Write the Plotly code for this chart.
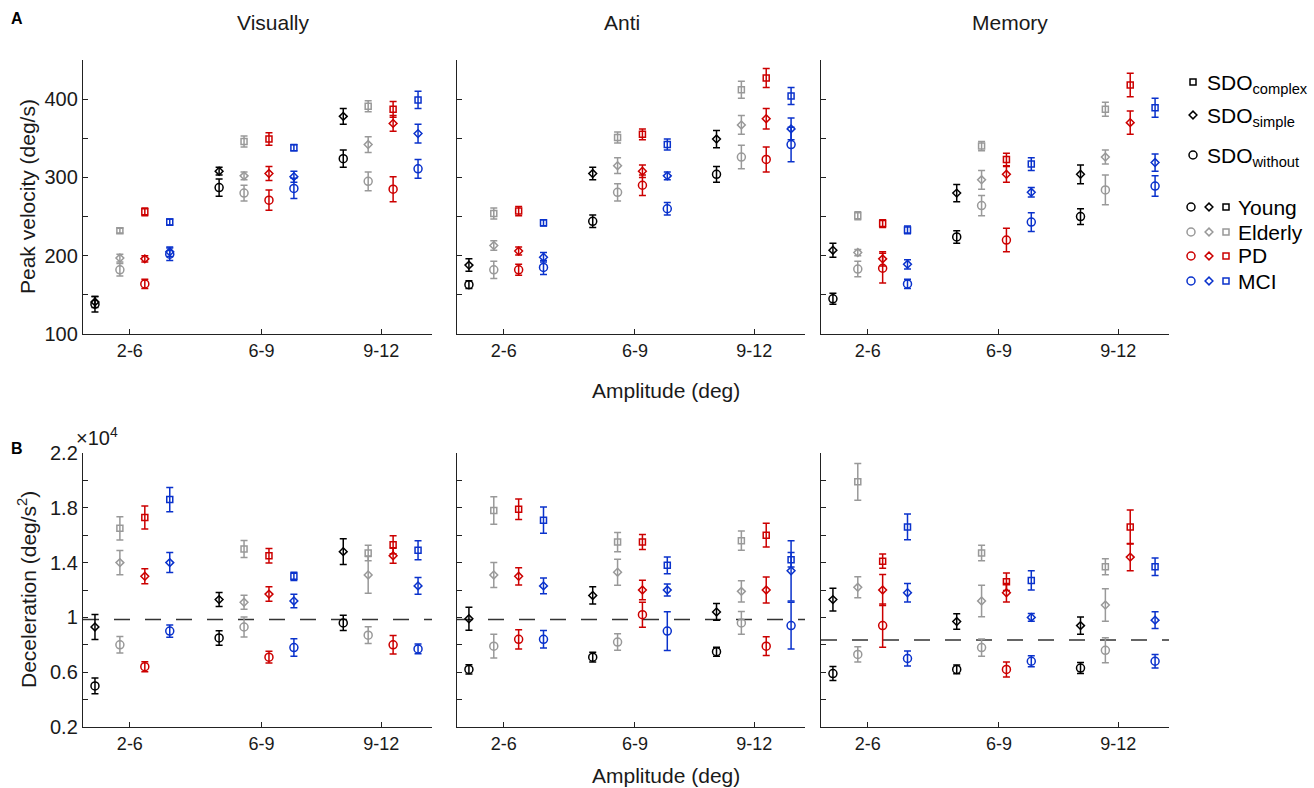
import plotly.graph_objects as go

W, H = 1314, 788

# ---------------- categories ----------------
AMPLITUDE_BINS = ['2-6', '6-9', '9-12']
GROUPS = ['Young', 'Elderly', 'PD', 'MCI']
TASKS = ['Visually', 'Anti', 'Memory']
CONDITIONS = ['complex', 'simple', 'without']

# ---------------- peak velocity (deg/s) ----------------
# rows: Young, Elderly, PD, MCI ; cols: 2-6, 6-9, 9-12
PV_VIS_COMPLEX = [[None, None, None], [232, 346, 391], [256, 349, 387], [243, 338, 399]]
PV_VIS_COMPLEX_SE = [[None, None, None], [3, 7, 7], [5, 8, 10], [4, 4, 11]]
PV_VIS_SIMPLE = [[141, 308, 378], [197, 302, 342], [196, 305, 369], [205, 301, 356]]
PV_VIS_SIMPLE_SE = [[7, 5, 10], [5, 5, 10], [4, 9, 10], [6, 7, 12]]
PV_VIS_WITHOUT = [[138, 287, 324], [182, 280, 295], [164, 271, 285], [202, 286, 311]]
PV_VIS_WITHOUT_SE = [[10, 11, 11], [8, 10, 12], [6, 13, 16], [8, 13, 12]]

PV_ANTI_COMPLEX = [[None, None, None], [254, 351, 412], [257, 355, 427], [242, 342, 404]]
PV_ANTI_COMPLEX_SE = [[None, None, None], [7, 7, 11], [6, 7, 12], [4, 7, 11]]
PV_ANTI_SIMPLE = [[188, 305, 349], [213, 315, 367], [206, 308, 375], [198, 302, 362]]
PV_ANTI_SIMPLE_SE = [[8, 8, 11], [6, 10, 12], [5, 8, 13], [6, 5, 14]]
PV_ANTI_WITHOUT = [[163, 244, 304], [182, 281, 326], [182, 290, 323], [185, 260, 342]]
PV_ANTI_WITHOUT_SE = [[5, 8, 10], [11, 11, 15], [7, 13, 16], [9, 8, 22]]

PV_MEM_COMPLEX = [[None, None, None], [251, 340, 387], [241, 323, 418], [233, 317, 389]]
PV_MEM_COMPLEX_SE = [[None, None, None], [5, 6, 9], [5, 8, 15], [5, 8, 12]]
PV_MEM_SIMPLE = [[207, 280, 304], [204, 297, 326], [196, 304, 370], [189, 281, 319]]
PV_MEM_SIMPLE_SE = [[9, 11, 12], [4, 12, 9], [9, 10, 15], [6, 6, 11]]
PV_MEM_WITHOUT = [[145, 224, 250], [183, 264, 284], [184, 220, None], [164, 243, 289]]
PV_MEM_WITHOUT_SE = [[7, 8, 10], [10, 13, 19], [19, 15, None], [6, 12, 13]]

# ---------------- deceleration (x10^4 deg/s^2) ----------------
DC_VIS_COMPLEX = [[None, None, None], [1.65, 1.50, 1.47], [1.73, 1.45, 1.53], [1.86, 1.30, 1.49]]
DC_VIS_COMPLEX_SE = [[None, None, None], [0.085, 0.062, 0.057], [0.084, 0.053, 0.066], [0.089, 0.03, 0.069]]
DC_VIS_SIMPLE = [[0.93, 1.13, 1.48], [1.40, 1.11, 1.31], [1.30, 1.17, 1.45], [1.40, 1.12, 1.23]]
DC_VIS_SIMPLE_SE = [[0.091, 0.051, 0.094], [0.089, 0.051, 0.134], [0.055, 0.053, 0.055], [0.073, 0.049, 0.061]]
DC_VIS_WITHOUT = [[0.50, 0.85, 0.96], [0.80, 0.93, 0.87], [0.64, 0.71, 0.80], [0.90, 0.78, 0.77]]
DC_VIS_WITHOUT_SE = [[0.057, 0.053, 0.055], [0.06, 0.073, 0.061], [0.036, 0.043, 0.067], [0.045, 0.064, 0.035]]

DC_ANTI_COMPLEX = [[None, None, None], [1.78, 1.55, 1.56], [1.79, 1.55, 1.60], [1.71, 1.38, 1.42]]
DC_ANTI_COMPLEX_SE = [[None, None, None], [0.10, 0.07, 0.07], [0.075, 0.055, 0.087], [0.095, 0.061, 0.053]]
DC_ANTI_SIMPLE = [[0.99, 1.16, 1.04], [1.31, 1.33, 1.19], [1.30, 1.20, 1.20], [1.23, 1.20, 1.34]]
DC_ANTI_SIMPLE_SE = [[0.084, 0.063, 0.061], [0.091, 0.095, 0.077], [0.063, 0.072, 0.094], [0.057, 0.044, 0.22]]
DC_ANTI_WITHOUT = [[0.62, 0.71, 0.75], [0.79, 0.82, 0.96], [0.84, 1.02, 0.79], [0.84, 0.90, 0.94]]
DC_ANTI_WITHOUT_SE = [[0.034, 0.036, 0.033], [0.087, 0.06, 0.083], [0.07, 0.091, 0.069], [0.064, 0.142, 0.17]]

DC_MEM_COMPLEX = [[None, None, None], [1.99, 1.47, 1.37], [1.41, 1.26, 1.66], [1.66, 1.27, 1.37]]
DC_MEM_COMPLEX_SE = [[None, None, None], [0.134, 0.056, 0.058], [0.052, 0.064, 0.124], [0.094, 0.07, 0.064]]
DC_MEM_SIMPLE = [[1.13, 0.97, 0.94], [1.22, 1.12, 1.09], [1.20, 1.18, 1.44], [1.18, 1.00, 0.98]]
DC_MEM_SIMPLE_SE = [[0.083, 0.057, 0.063], [0.077, 0.115, 0.119], [0.113, 0.067, 0.10], [0.067, 0.028, 0.061]]
DC_MEM_WITHOUT = [[0.59, 0.62, 0.63], [0.73, 0.78, 0.76], [0.94, 0.62, None], [0.70, 0.68, 0.68]]
DC_MEM_WITHOUT_SE = [[0.051, 0.032, 0.04], [0.055, 0.063, 0.091], [0.157, 0.055, None], [0.055, 0.04, 0.049]]

# dashed reference levels in the deceleration panels (x10^4)
DC_REFERENCE = [0.985, 0.985, 0.835]

# tick values / labels
PV_TICKS = [100, 200, 300, 400]
PV_TICKTEXT = ['100', '200', '300', '400']
PV_MINOR = [150, 250, 350, 450]
DC_TICKS = [0.2, 0.6, 1.0, 1.4, 1.8, 2.2]
DC_TICKTEXT = ['0.2', '0.6', '1', '1.4', '1.8', '2.2']
DC_MINOR = [0.4, 0.8, 1.2, 1.6, 2.0]

PV = {
    'Visually': {'complex': (PV_VIS_COMPLEX, PV_VIS_COMPLEX_SE), 'simple': (PV_VIS_SIMPLE, PV_VIS_SIMPLE_SE), 'without': (PV_VIS_WITHOUT, PV_VIS_WITHOUT_SE)},
    'Anti': {'complex': (PV_ANTI_COMPLEX, PV_ANTI_COMPLEX_SE), 'simple': (PV_ANTI_SIMPLE, PV_ANTI_SIMPLE_SE), 'without': (PV_ANTI_WITHOUT, PV_ANTI_WITHOUT_SE)},
    'Memory': {'complex': (PV_MEM_COMPLEX, PV_MEM_COMPLEX_SE), 'simple': (PV_MEM_SIMPLE, PV_MEM_SIMPLE_SE), 'without': (PV_MEM_WITHOUT, PV_MEM_WITHOUT_SE)},
}
DC = {
    'Visually': {'complex': (DC_VIS_COMPLEX, DC_VIS_COMPLEX_SE), 'simple': (DC_VIS_SIMPLE, DC_VIS_SIMPLE_SE), 'without': (DC_VIS_WITHOUT, DC_VIS_WITHOUT_SE)},
    'Anti': {'complex': (DC_ANTI_COMPLEX, DC_ANTI_COMPLEX_SE), 'simple': (DC_ANTI_SIMPLE, DC_ANTI_SIMPLE_SE), 'without': (DC_ANTI_WITHOUT, DC_ANTI_WITHOUT_SE)},
    'Memory': {'complex': (DC_MEM_COMPLEX, DC_MEM_COMPLEX_SE), 'simple': (DC_MEM_SIMPLE, DC_MEM_SIMPLE_SE), 'without': (DC_MEM_WITHOUT, DC_MEM_WITHOUT_SE)},
}

# ---------------- styles / layout ----------------
FONT = 'Liberation Sans, Arial, sans-serif'
TXT = '#1a1a1a'
AX = '#222222'
COLORS = {'Young': '#000000', 'Elderly': '#999999', 'PD': '#cc0000', 'MCI': '#0a32cc'}
SYMBOLS = {'complex': 'square-open', 'simple': 'diamond-open', 'without': 'circle-open'}
SIZES = {'complex': 6, 'simple': 6, 'without': 8}

X_RANGE = [0, 14]
BIN_BASE = [0.48, 5.46, 10.44]
GROUP_OFFSET = [0, 1, 2, 3]
X_TICKVALS = [1.88, 7.16, 11.96]

PANEL_X = [(83, 432), (457, 805), (821, 1169)]
ROW_Y = [(60, 334), (453, 727)]


def dom_x(a, b):
    return [a / W, b / W]


def dom_y(top, bottom):
    return [1 - bottom / H, 1 - top / H]


fig = go.Figure()
layout = dict(
    width=W, height=H, margin=dict(l=0, r=0, t=0, b=0, pad=0, autoexpand=False),
    plot_bgcolor='rgba(0,0,0,0)', paper_bgcolor='white', showlegend=False,
    font=dict(family=FONT, color=TXT, size=18),
)

ax_common = dict(showline=True, linecolor=AX, linewidth=1.4, ticks='inside', ticklen=5,
                 tickwidth=1.3, tickcolor=AX, showgrid=False, zeroline=False, mirror=False,
                 automargin=False)

shapes = []
for r, (metric, yr) in enumerate([(PV, ROW_Y[0]), (DC, ROW_Y[1])]):
    for c, task in enumerate(TASKS):
        idx = r * 3 + c + 1
        xa = 'x' if idx == 1 else f'x{idx}'
        ya = 'y' if idx == 1 else f'y{idx}'
        xkey = 'xaxis' if idx == 1 else f'xaxis{idx}'
        ykey = 'yaxis' if idx == 1 else f'yaxis{idx}'
        layout[xkey] = dict(ax_common, domain=dom_x(*PANEL_X[c]), range=X_RANGE, anchor=ya,
                            tickmode='array', tickvals=X_TICKVALS, ticktext=AMPLITUDE_BINS,
                            tickfont=dict(size=18, color=TXT))
        if r == 0:
            ycfg = dict(range=[100, 450], tickvals=PV_TICKS, ticktext=PV_TICKTEXT,
                        minor=dict(tickmode='array', tickvals=PV_MINOR, ticks='inside', ticklen=5,
                                   tickwidth=1.3, tickcolor=AX, showgrid=False))
        else:
            ycfg = dict(range=[0.2, 2.2], tickvals=DC_TICKS, ticktext=DC_TICKTEXT,
                        minor=dict(tickmode='array', tickvals=DC_MINOR, ticks='inside', ticklen=5,
                                   tickwidth=1.3, tickcolor=AX, showgrid=False))
        layout[ykey] = dict(ax_common, domain=dom_y(*yr), anchor=xa, tickmode='array',
                            showticklabels=(c == 0), tickfont=dict(size=20, color=TXT), **ycfg)
        if r == 1:
            shapes.append(dict(type='line', xref=f'{xa} domain', yref=ya, x0=0.0, x1=1.0,
                               y0=DC_REFERENCE[c], y1=DC_REFERENCE[c],
                               line=dict(color='#333333', width=1.4, dash='16px,15px'), layer='below'))
        for cond in CONDITIONS:
            means, errs = metric[task][cond]
            for g, grp in enumerate(GROUPS):
                xs = [BIN_BASE[b] + GROUP_OFFSET[g] for b in range(len(AMPLITUDE_BINS))]
                col = COLORS[grp]
                fig.add_trace(go.Scatter(
                    x=xs, y=means[g], xaxis=xa, yaxis=ya, mode='markers',
                    name=f'{grp} SDO {cond}',
                    marker=dict(symbol=SYMBOLS[cond], size=SIZES[cond], color=col,
                                line=dict(color=col, width=1.5)),
                    error_y=dict(type='data', array=errs[g], visible=True, color=col,
                                 thickness=1.5, width=3.5),
                    cliponaxis=False,
                ))

# legend drawn on a hidden pixel-space axis
layout['xaxis7'] = dict(domain=[0, 1], range=[0, W], visible=False, anchor='y7', automargin=False)
layout['yaxis7'] = dict(domain=[0, 1], range=[H, 0], visible=False, anchor='x7', automargin=False)

LEG_SDO_Y = {'complex': 82, 'simple': 115, 'without': 155}
LEG_SDO_LABEL = {'complex': 'SDO<sub>complex</sub>', 'simple': 'SDO<sub>simple</sub>',
                 'without': 'SDO<sub>without</sub>'}
LEG_GROUP_Y = [207, 232, 256, 281]
LEG_COLS = {'without': 1191, 'simple': 1209, 'complex': 1226}

annotations = []
for cond in CONDITIONS:
    fig.add_trace(go.Scatter(x=[1193], y=[LEG_SDO_Y[cond]], xaxis='x7', yaxis='y7', mode='markers',
                             marker=dict(symbol=SYMBOLS[cond], size=SIZES[cond], color='#000',
                                         line=dict(color='#000', width=1.5)), hoverinfo='skip'))
    annotations.append(dict(text=LEG_SDO_LABEL[cond], xref='paper', yref='paper',
                            x=1205 / W, y=1 - (LEG_SDO_Y[cond] + 2) / H, xanchor='left',
                            yanchor='middle', showarrow=False, font=dict(size=21, color='#000')))
for g, grp in enumerate(GROUPS):
    for cond in CONDITIONS:
        fig.add_trace(go.Scatter(x=[LEG_COLS[cond]], y=[LEG_GROUP_Y[g]], xaxis='x7', yaxis='y7',
                                 mode='markers',
                                 marker=dict(symbol=SYMBOLS[cond], size=SIZES[cond], color=COLORS[grp],
                                             line=dict(color=COLORS[grp], width=1.5)),
                                 hoverinfo='skip'))
    annotations.append(dict(text=grp, xref='paper', yref='paper', x=1236 / W,
                            y=1 - LEG_GROUP_Y[g] / H, xanchor='left', yanchor='middle',
                            showarrow=False, font=dict(size=21, color='#000')))


def ann(text, x, y, size=19, **kw):
    d = dict(text=text, xref='paper', yref='paper', x=x / W, y=1 - y / H, showarrow=False,
             font=dict(size=size, color=TXT), xanchor='center', yanchor='middle')
    d.update(kw)
    return d


annotations += [
    ann('<b>A</b>', 17, 18, font=dict(size=16, color='#000')),
    ann('<b>B</b>', 17, 448, font=dict(size=16, color='#000')),
    ann('Visually', 273, 22, size=21),
    ann('Anti', 622, 22, size=21),
    ann('Memory', 1010, 22, size=21),
    ann('Peak velocity (deg/s)', 27, 197, size=21, textangle=-90),
    ann('Deceleration (deg/s<sup>2</sup>)', 27, 590, size=21, textangle=-90),
    ann('Amplitude (deg)', 666, 390, size=21),
    ann('Amplitude (deg)', 666, 775, size=21),
    ann('×10<sup>4</sup>', 97, 436, size=20),
]

layout['annotations'] = annotations
layout['shapes'] = shapes
fig.update_layout(**layout)

fig.write_html("out.html", config={'displayModeBar': False},
               post_script="document.body.style.margin='0';document.body.style.overflow='hidden';")
